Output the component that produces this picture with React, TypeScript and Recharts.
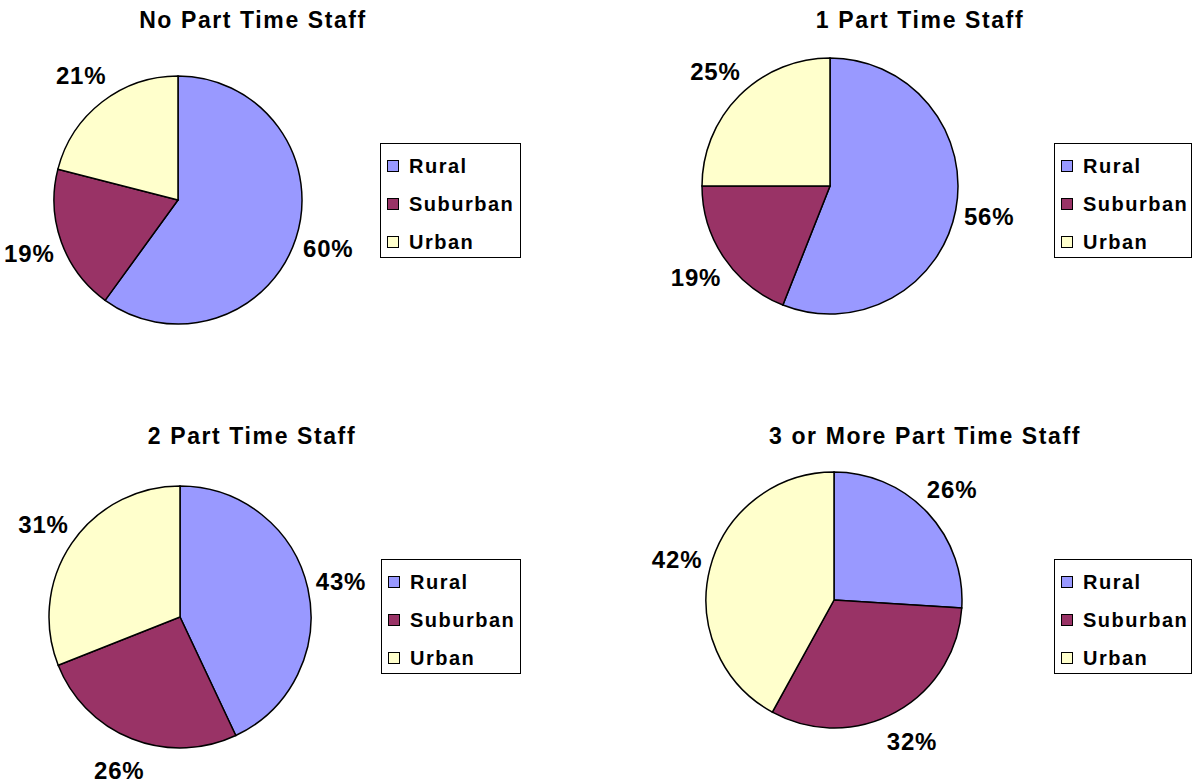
import { Pie, PieChart, Cell } from "recharts"

const categories = ["Rural", "Suburban", "Urban"]
const colors = ["#9999ff", "#993366", "#ffffcc"]

const noPartTime = [60, 19, 21]
const onePartTime = [56, 19, 25]
const twoPartTime = [43, 26, 31]
const threeOrMore = [26, 32, 42]

const titles = ["No Part Time Staff", "1 Part Time Staff", "2 Part Time Staff", "3 or More Part Time Staff"]

const FONT = "'Liberation Sans', Arial, Helvetica, sans-serif"
const RADIAN = Math.PI / 180

type PanelProps = {
  title: string
  values: number[]
  left: number
  top: number
  cx: number
  cy: number
  r: number
  titleX: number
  titleY: number
  legendX: number
  legendY: number
  legendW: number
}

function renderLabel(props: any) {
  const { cx, cy, midAngle, outerRadius, value } = props
  const d = outerRadius + 34
  const x = cx + d * Math.cos(-midAngle * RADIAN)
  const y = cy + d * Math.sin(-midAngle * RADIAN)
  return (
    <text
      x={x}
      y={y}
      textAnchor="middle"
      dominantBaseline="central"
      fill="#000"
      fontFamily={FONT}
      fontWeight="bold"
      fontSize={24}
      letterSpacing={0.8}
    >
      {`${value}%`}
    </text>
  )
}

function LegendBox({ width, left, top }: { width: number; left: number; top: number }) {
  return (
    <div
      style={{
        position: "absolute",
        left,
        top,
        width,
        height: 115,
        boxSizing: "border-box",
        border: "1.5px solid #000",
        background: "#fff",
        fontFamily: FONT,
      }}
    >
      {categories.map((c, i) => (
        <div
          key={c}
          style={{ position: "absolute", left: 6, top: 22 + i * 38 - 12, height: 24, display: "flex", alignItems: "center" }}
        >
          <span
            style={{
              width: 12,
              height: 12,
              boxSizing: "border-box",
              border: "1.5px solid #000",
              background: colors[i],
              display: "inline-block",
              marginRight: 10,
            }}
          />
          <span style={{ fontSize: 20, fontWeight: "bold", letterSpacing: 1.5, lineHeight: "24px" }}>{c}</span>
        </div>
      ))}
    </div>
  )
}

function Panel(p: PanelProps) {
  const data = categories.map((name, i) => ({ name, value: p.values[i] }))
  return (
    <div style={{ position: "absolute", left: p.left, top: p.top, width: 596, height: 392 }}>
      <PieChart width={596} height={392} margin={{ top: 0, right: 0, bottom: 0, left: 0 }}>
        <Pie
          data={data}
          dataKey="value"
          nameKey="name"
          cx={p.cx}
          cy={p.cy}
          outerRadius={p.r}
          startAngle={90}
          endAngle={-270}
          stroke="#000"
          strokeWidth={1.5}
          label={renderLabel}
          labelLine={false}
          isAnimationActive={false}
        >
          {data.map((d, i) => (
            <Cell key={d.name} fill={colors[i]} />
          ))}
        </Pie>
      </PieChart>
      <div
        style={{
          position: "absolute",
          left: p.titleX,
          top: p.titleY,
          transform: "translateX(-50%)",
          whiteSpace: "nowrap",
          fontFamily: FONT,
          fontWeight: "bold",
          fontSize: 23,
          lineHeight: "23px",
          letterSpacing: 1.6,
        }}
      >
        {p.title}
      </div>
      <LegendBox width={p.legendW} left={p.legendX} top={p.legendY} />
    </div>
  )
}

export default function App() {
  return (
    <div style={{ position: "absolute", left: 0, top: 0, width: 1193, height: 783, background: "#fff", overflow: "hidden" }}>
      <Panel title={titles[0]} values={noPartTime} left={0} top={0} cx={178} cy={200} r={124}
        titleX={253} titleY={9} legendX={380} legendY={143} legendW={141} />
      <Panel title={titles[1]} values={onePartTime} left={596} top={0} cx={234} cy={186} r={128}
        titleX={324} titleY={9} legendX={458} legendY={143} legendW={138} />
      <Panel title={titles[2]} values={twoPartTime} left={0} top={391} cx={180} cy={226} r={131}
        titleX={252} titleY={34} legendX={381} legendY={168} legendW={140} />
      <Panel title={titles[3]} values={threeOrMore} left={596} top={391} cx={238} cy={209} r={128}
        titleX={329} titleY={34} legendX={458} legendY={168} legendW={138} />
    </div>
  )
}
